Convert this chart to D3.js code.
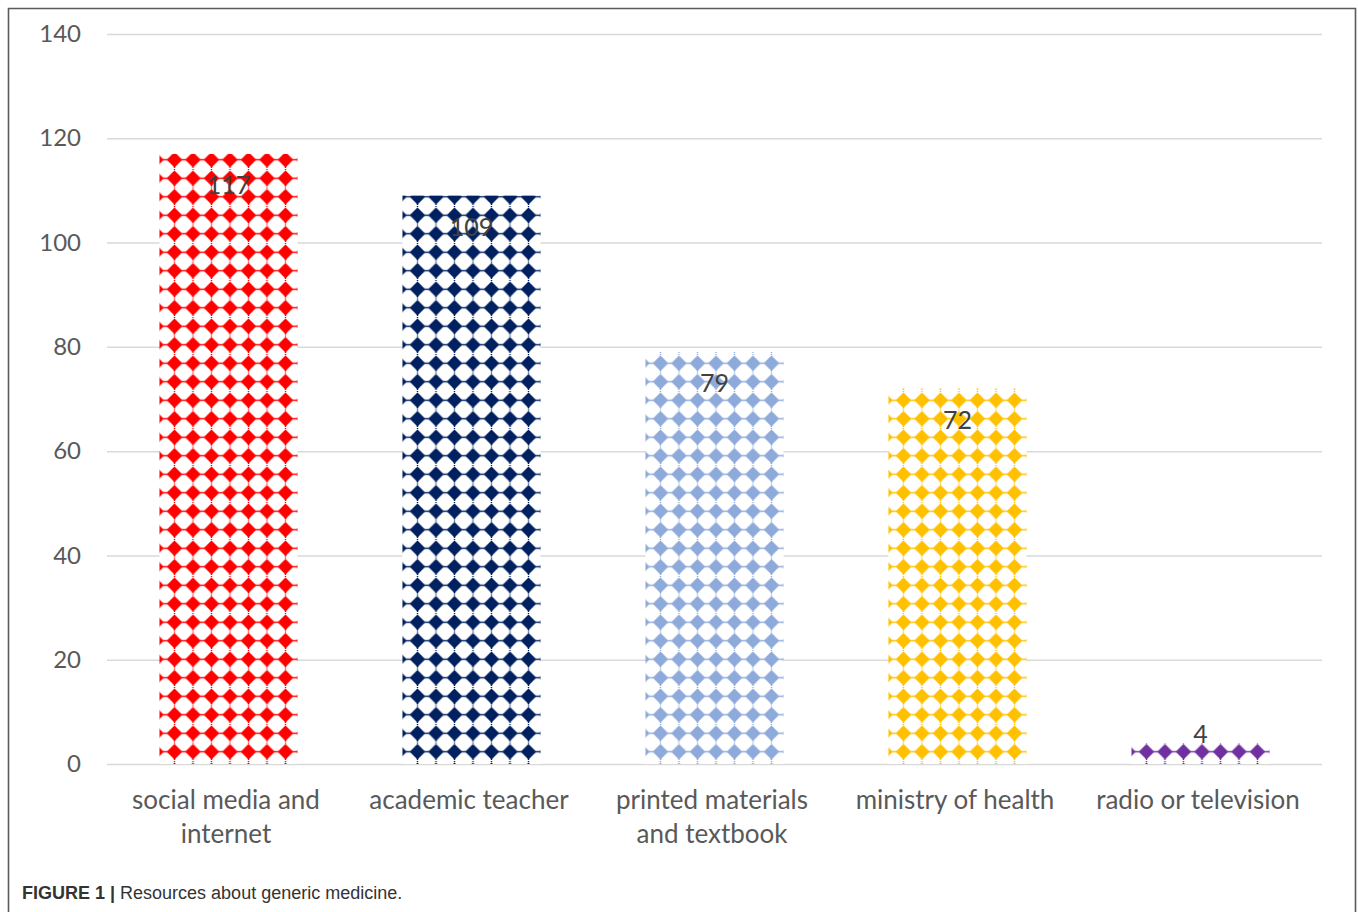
<!DOCTYPE html>
<html>
<head>
<meta charset="utf-8">
<script src="https://cdn.jsdelivr.net/npm/d3@7"></script>
<style>
  html, body { margin: 0; padding: 0; background: #fff; }
  svg { display: block; }
</style>
</head>
<body>
<svg id="chart" width="1358" height="912"></svg>
<script>
const categories = [["social media and", "internet"], ["academic teacher"], ["printed materials", "and textbook"], ["ministry of health"], ["radio or television"]];
const values = [117, 109, 79, 72, 4];
const colors = ["#ff0000", "#002060", "#8eaadb", "#ffc000", "#7030a0"];
const yTicks = [0, 20, 40, 60, 80, 100, 120, 140];

const svg = d3.select("#chart");
const margin = { left: 107, right: 1322, top: 34, bottom: 764 };

// frame
svg.append("path")
  .attr("d", "M8.5,920 L8.5,8.5 L1355.5,8.5 L1355.5,920")
  .attr("fill", "none").attr("stroke", "#5a5a5a").attr("stroke-width", 1.6);

const x = d3.scaleBand().domain(d3.range(categories.length)).range([margin.left, margin.right]).paddingInner(0.432).paddingOuter(0.216);
const y = d3.scaleLinear().domain([0, 140]).range([margin.bottom, margin.top]);

// gridlines
const yAxis = d3.axisLeft(y).tickValues(yTicks).tickSize(-(margin.right - margin.left)).tickPadding(26);
const gy = svg.append("g").attr("transform", `translate(${margin.left},0)`).call(yAxis);
gy.select(".domain").remove();
gy.selectAll(".tick line").attr("stroke", "#d9d9d9").attr("stroke-width", 1.5);
gy.selectAll(".tick text").attr("fill", "#595959").style("font-family", "Lato, 'Open Sans', sans-serif").style("font-size", "24px");

// patterns
const defs = svg.append("defs");
const P = 18.5;
values.forEach((v, i) => {
  const bx = x(i);
  const pat = defs.append("pattern")
    .attr("id", "pat" + i)
    .attr("patternUnits", "userSpaceOnUse")
    .attr("width", P).attr("height", P)
    .attr("x", bx + 5.75).attr("y", y(0) - 21.5);
  const c = P / 2;
  const r = 7.8;
  pat.append("rect").attr("width", P).attr("height", P).attr("fill", "#fff");
  pat.append("line").attr("x1", 0).attr("x2", P).attr("y1", c).attr("y2", c)
    .attr("stroke", colors[i]).attr("stroke-width", 1.4);
  pat.append("line").attr("x1", c).attr("x2", c).attr("y1", 0).attr("y2", P)
    .attr("stroke", colors[i]).attr("stroke-width", 1.4).attr("stroke-dasharray", "2 14.5").attr("stroke-dashoffset", 1);
  pat.append("path")
    .attr("d", `M${c - r},${c} L${c},${c - r} L${c + r},${c} L${c},${c + r} Z`)
    .attr("fill", colors[i]);
});

// bars
svg.append("g").selectAll("rect").data(values).join("rect")
  .attr("x", (d, i) => x(i)).attr("width", x.bandwidth())
  .attr("y", d => y(d)).attr("height", d => y(0) - y(d))
  .attr("fill", (d, i) => `url(#pat${i})`);

// value labels
svg.append("g").selectAll("text").data(values).join("text")
  .attr("x", (d, i) => x(i) + x.bandwidth() / 2)
  .attr("y", d => (y(0) - y(d) > 50 ? y(d) + 40 : y(d)))
  .attr("text-anchor", "middle")
  .attr("fill", "#404040")
  .style("font-family", "Lato, 'Open Sans', sans-serif").style("font-size", "25px")
  .text(d => d);

// category labels
const cat = svg.append("g").selectAll("text").data(categories).join("text")
  .attr("text-anchor", "middle")
  .attr("fill", "#595959")
  .style("font-family", "Lato, 'Open Sans', sans-serif").style("font-size", "26px");
cat.each(function (lines, i) {
  const t = d3.select(this);
  lines.forEach((ln, j) => {
    t.append("tspan").attr("x", x(i) + x.bandwidth() / 2 - 2.5).attr("y", 809 + j * 34).text(ln);
  });
});

// caption
const cap = svg.append("text").attr("x", 22).attr("y", 899)
  .attr("fill", "#333").style("font-family", "'Liberation Sans', Arial, sans-serif").style("font-size", "18px");
cap.append("tspan").attr("font-weight", "bold").text("FIGURE 1 | ");
cap.append("tspan").text("Resources about generic medicine.");
</script>
</body>
</html>
